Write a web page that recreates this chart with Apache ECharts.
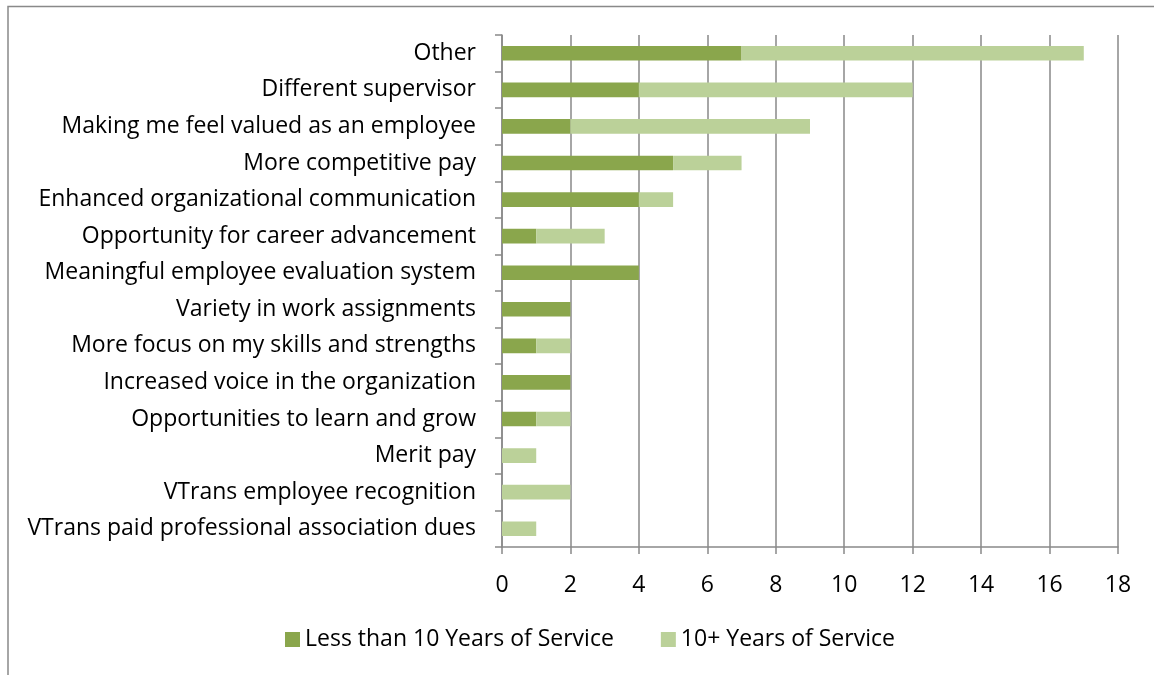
<!DOCTYPE html>
<html>
<head>
<meta charset="utf-8">
<script src="https://cdn.jsdelivr.net/npm/echarts@6/dist/echarts.min.js"></script>
<style>
html,body{margin:0;padding:0;background:#fff;}
#chart{width:1154px;height:675px;}
</style>
</head>
<body>
<div id="chart"></div>
<script>
const categories = [
  "Other",
  "Different supervisor",
  "Making me feel valued as an employee",
  "More competitive pay",
  "Enhanced organizational communication",
  "Opportunity for career advancement",
  "Meaningful employee evaluation system",
  "Variety in work assignments",
  "More focus on my skills and strengths",
  "Increased voice in the organization",
  "Opportunities to learn and grow",
  "Merit pay",
  "VTrans employee recognition",
  "VTrans paid professional association dues"
];
const lessThan10 = [7, 4, 2, 5, 4, 1, 4, 2, 1, 2, 1, 0, 0, 0];
const tenPlus = [10, 8, 7, 2, 1, 2, 0, 0, 1, 0, 1, 1, 2, 1];
const xTicks = { min: 0, max: 18, interval: 2 };
const seriesNames = ["Less than 10 Years of Service", "10+ Years of Service"];

const FONT = "Open Sans";
const FS = 23;
const chart = echarts.init(document.getElementById('chart'), null, {renderer: 'canvas'});
chart.setOption({
  animation: false,
  backgroundColor: '#fff',
  textStyle: { fontFamily: FONT },
  graphic: [{
    type: 'polyline',
    shape: { points: [[8, 675], [8, 6.5], [1154, 6.5]] },
    style: { stroke: '#898989', lineWidth: 1.5, fill: null }
  }],
  grid: { left: 502, right: 36, top: 35, bottom: 128 },
  legend: {
    top: 623,
    left: 280,
    itemWidth: 15, itemHeight: 15,
    itemGap: 47,
    icon: 'rect',
    textStyle: { fontFamily: FONT, fontSize: FS, color: '#000' },
    data: seriesNames
  },
  xAxis: {
    type: 'value',
    min: xTicks.min, max: xTicks.max, interval: xTicks.interval,
    axisLine: { show: true, lineStyle: { color: '#898989', width: 1.5 } },
    axisTick: { show: true, length: 7, lineStyle: { color: '#898989', width: 1.5 } },
    axisLabel: { fontFamily: FONT, fontSize: FS, color: '#000', margin: 27 },
    splitLine: { show: true, lineStyle: { color: '#898989', width: 1.5 } }
  },
  yAxis: {
    type: 'category',
    inverse: true,
    data: categories,
    axisLine: { show: true, lineStyle: { color: '#898989', width: 1.5 } },
    axisTick: { show: true, length: 7, lineStyle: { color: '#898989', width: 1.5 } },
    axisLabel: { fontFamily: FONT, fontSize: FS, color: '#000', margin: 26 },
    splitLine: { show: false }
  },
  series: [
    { name: seriesNames[0], type: 'bar', stack: 'total', data: lessThan10, barWidth: '40%',
      itemStyle: { color: '#8AA64C' } },
    { name: seriesNames[1], type: 'bar', stack: 'total', data: tenPlus, barWidth: '40%',
      itemStyle: { color: '#BBD199' } }
  ]
});
</script>
</body>
</html>
